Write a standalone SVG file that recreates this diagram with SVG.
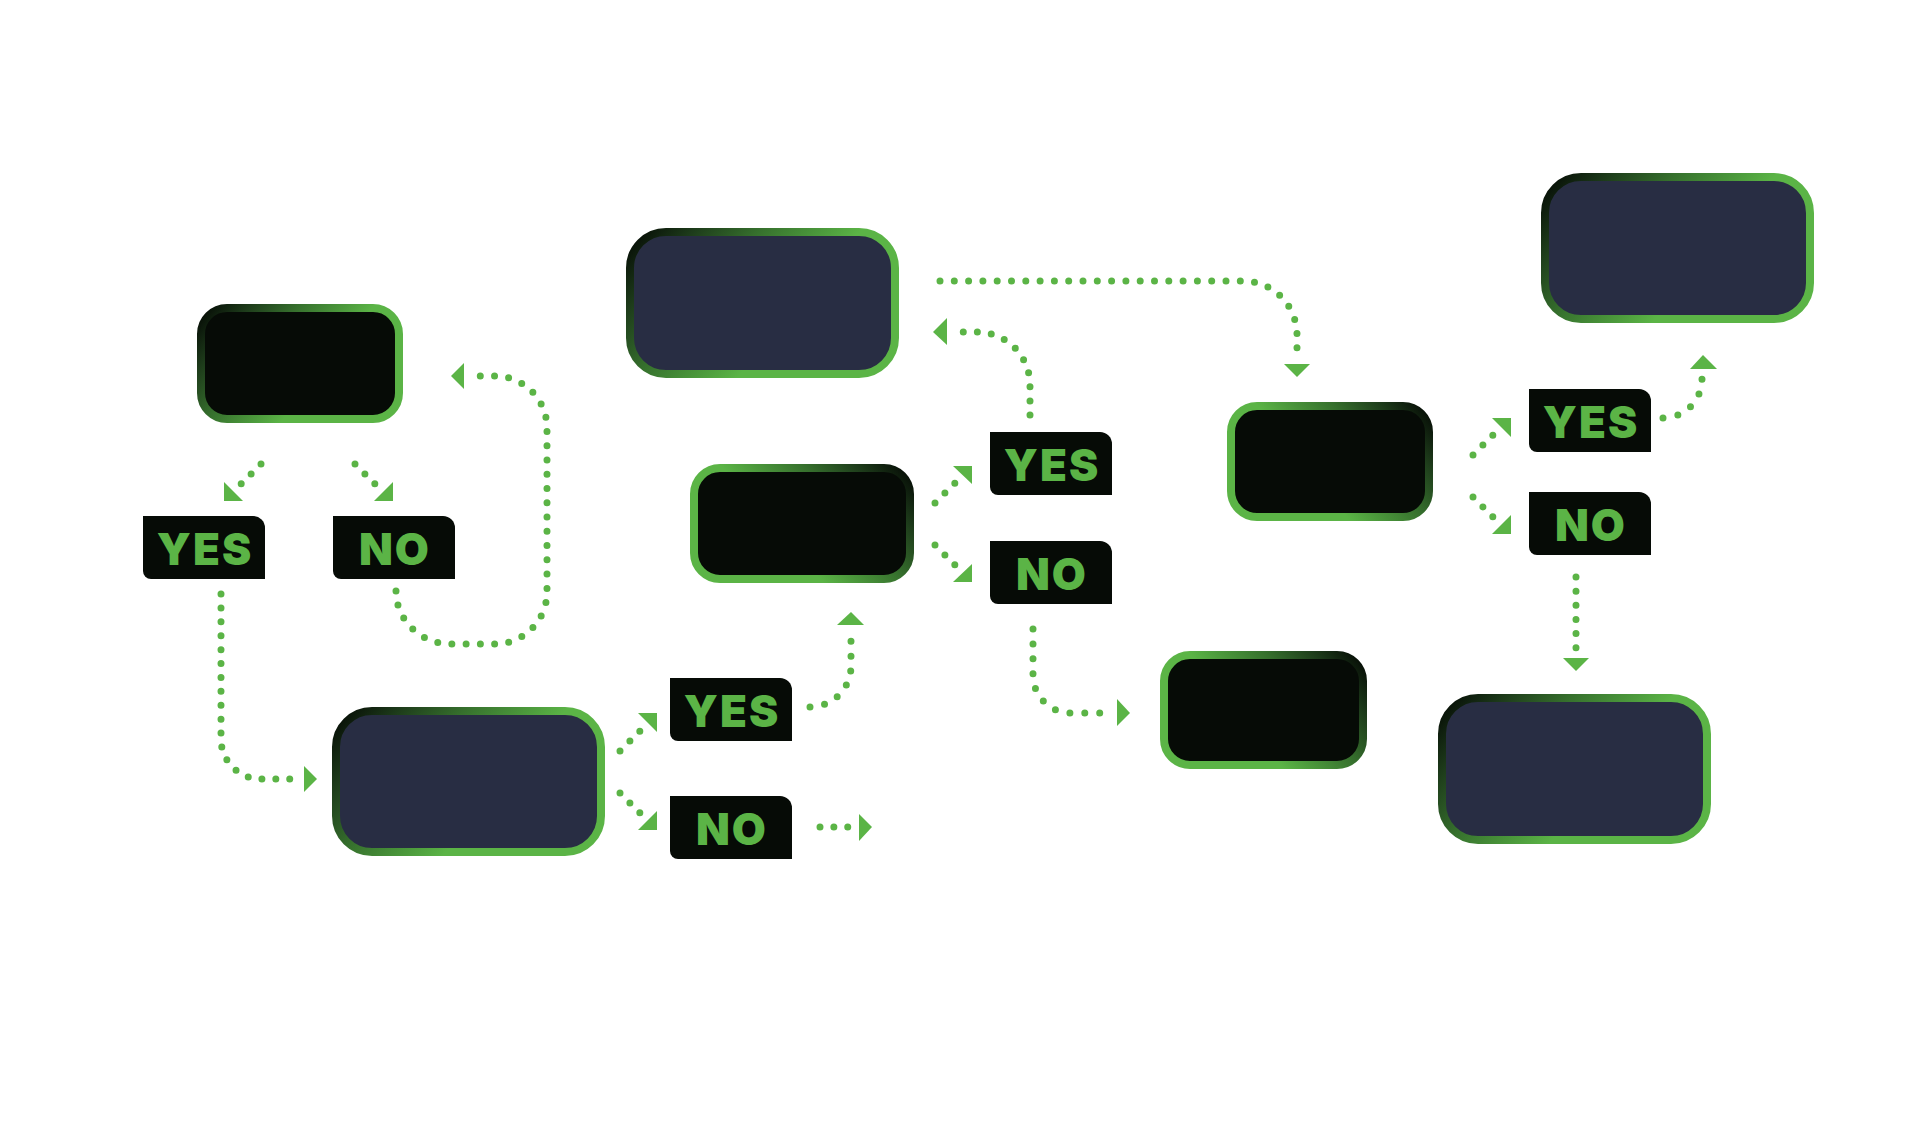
<svg xmlns="http://www.w3.org/2000/svg" xmlns:xlink="http://www.w3.org/1999/xlink" width="1920" height="1121" viewBox="0 0 1920 1121">
  <defs>
    <linearGradient id="gL" x1="0" y1="0" x2="1" y2="0.45">
      <stop offset="0" stop-color="#040804"/>
      <stop offset="0.2" stop-color="#1e3d1b"/>
      <stop offset="0.4" stop-color="#36702d"/>
      <stop offset="0.6" stop-color="#4c9a3c"/>
      <stop offset="0.72" stop-color="#5bb446"/>
      <stop offset="1" stop-color="#5bb446"/>
    </linearGradient>
    <linearGradient id="gR" x1="1" y1="0" x2="0" y2="0.45">
      <stop offset="0" stop-color="#040804"/>
      <stop offset="0.2" stop-color="#1e3d1b"/>
      <stop offset="0.4" stop-color="#36702d"/>
      <stop offset="0.6" stop-color="#4c9a3c"/>
      <stop offset="0.72" stop-color="#5bb446"/>
      <stop offset="1" stop-color="#5bb446"/>
    </linearGradient>
    <path id="tag" d="M0,0 H110 A12,12 0 0 1 122,12 V63 H8 A8,8 0 0 1 0,55 Z"/>
  </defs>
  <style>
    .box { stroke-width: 8; }
    .navy { fill: #282d43; }
    .dark { fill: #060b06; }
    .sl { stroke: url(#gL); }
    .sr { stroke: url(#gR); }
    .tag { fill: #060b06; }
    .lbl { font-family: Inter, "Liberation Sans", sans-serif; font-weight: 900; font-size: 44px; fill: #5bb446; text-anchor: middle; letter-spacing: 2px; }
    .dot { fill: none; stroke: #5bb446; stroke-width: 7; stroke-linecap: round; stroke-dasharray: 0 1; }
    .head { fill: #5bb446; }
  </style>
  <rect width="1920" height="1121" fill="#ffffff"/>

  <g id="node-a"><rect class="box dark sl" x="201" y="308" width="198" height="111" rx="26"/></g>
  <g id="node-b"><rect class="box navy sl" x="336" y="711" width="265" height="141" rx="36"/></g>
  <g id="node-c"><rect class="box navy sl" x="630" y="232" width="265" height="142" rx="36"/></g>
  <g id="node-f"><rect class="box dark sr" x="694" y="468" width="216" height="111" rx="26"/></g>
  <g id="node-d"><rect class="box dark sr" x="1231" y="406" width="198" height="111" rx="26"/></g>
  <g id="node-g"><rect class="box dark sr" x="1164" y="655" width="199" height="110" rx="26"/></g>
  <g id="node-e"><rect class="box navy sl" x="1545" y="177" width="265" height="142" rx="36"/></g>
  <g id="node-h"><rect class="box navy sl" x="1442" y="698" width="265" height="142" rx="36"/></g>

  <g id="label-yes1"><use href="#tag" class="tag" x="143" y="516"/><text class="lbl" x="205" y="565">YES</text></g>
  <g id="label-no1"><use href="#tag" class="tag" x="333" y="516"/><text class="lbl" x="395" y="565">NO</text></g>
  <g id="label-yes2"><use href="#tag" class="tag" x="670" y="678"/><text class="lbl" x="732" y="727">YES</text></g>
  <g id="label-no2"><use href="#tag" class="tag" x="670" y="796"/><text class="lbl" x="732" y="845">NO</text></g>
  <g id="label-yes3"><use href="#tag" class="tag" x="990" y="432"/><text class="lbl" x="1052" y="481">YES</text></g>
  <g id="label-no3"><use href="#tag" class="tag" x="990" y="541"/><text class="lbl" x="1052" y="590">NO</text></g>
  <g id="label-yes4"><use href="#tag" class="tag" x="1529" y="389"/><text class="lbl" x="1591" y="438">YES</text></g>
  <g id="label-no4"><use href="#tag" class="tag" x="1529" y="492"/><text class="lbl" x="1591" y="541">NO</text></g>

  <g id="connectors">
    <!-- A to YES / NO -->
    <path class="dot" pathLength="2.02" d="M261,464 L241,484"/>
    <polygon class="head" points="224,482 224,501 243,501"/>
    <path class="dot" pathLength="2.02" d="M355,464 L375,484"/>
    <polygon class="head" points="393,482 393,501 374,501"/>
    <!-- YES1 to B -->
    <path class="dot" pathLength="17.02" d="M221,594 V739 A40,40 0 0 0 261,779 H290"/>
    <polygon class="head" points="317,779 304,766 304,792"/>
    <!-- NO1 loop back to A -->
    <path class="dot" pathLength="33.02" d="M396,591 A55,53 0 0 0 451,644 H495 A52,52 0 0 0 547,592 V428 A52,52 0 0 0 495,376 H480"/>
    <polygon class="head" points="451,376 464,363 464,389"/>
    <!-- B to YES2 / NO2 -->
    <path class="dot" pathLength="2.02" d="M620,751 L640,731"/>
    <polygon class="head" points="638,713 657,713 657,732"/>
    <path class="dot" pathLength="2.02" d="M620,793 L640,813"/>
    <polygon class="head" points="657,811 657,830 638,830"/>
    <!-- YES2 up to F -->
    <path class="dot" pathLength="6.02" d="M810,707 A41,41 0 0 0 851,666 V641"/>
    <polygon class="head" points="851,612 837,625 864,625"/>
    <!-- NO2 right -->
    <path class="dot" pathLength="2.02" d="M820,827 H848"/>
    <polygon class="head" points="872,827 859,814 859,841"/>
    <!-- F to YES3 / NO3 -->
    <path class="dot" pathLength="2.02" d="M935,503 L955,483"/>
    <polygon class="head" points="953,466 972,466 972,484"/>
    <path class="dot" pathLength="2.02" d="M935,545 L955,565"/>
    <polygon class="head" points="972,564 972,582 953,582"/>
    <!-- YES3 back to C -->
    <path class="dot" pathLength="9.02" d="M1030,415 V385 A53,53 0 0 0 977,332 H963"/>
    <polygon class="head" points="933,332 947,318 947,345"/>
    <!-- C to D -->
    <path class="dot" pathLength="28.02" d="M940,281 H1243 A54,54 0 0 1 1297,335 V348"/>
    <polygon class="head" points="1297,377 1284,364 1310,364"/>
    <!-- NO3 to G -->
    <path class="dot" pathLength="9.02" d="M1033,629 V675 A38,38 0 0 0 1071,713 H1100"/>
    <polygon class="head" points="1130,713 1117,699 1117,726"/>
    <!-- D to YES4 / NO4 -->
    <path class="dot" pathLength="2.02" d="M1473,455 L1493,435"/>
    <polygon class="head" points="1492,418 1511,418 1511,437"/>
    <path class="dot" pathLength="2.02" d="M1473,497 L1493,517"/>
    <polygon class="head" points="1511,515 1511,534 1492,534"/>
    <!-- YES4 to E -->
    <path class="dot" pathLength="4.02" d="M1663,418 A39,39 0 0 0 1702,379"/>
    <polygon class="head" points="1703,355 1690,369 1717,369"/>
    <!-- NO4 to H -->
    <path class="dot" pathLength="5.02" d="M1576,577 V648"/>
    <polygon class="head" points="1576,671 1563,658 1589,658"/>
  </g>
</svg>
